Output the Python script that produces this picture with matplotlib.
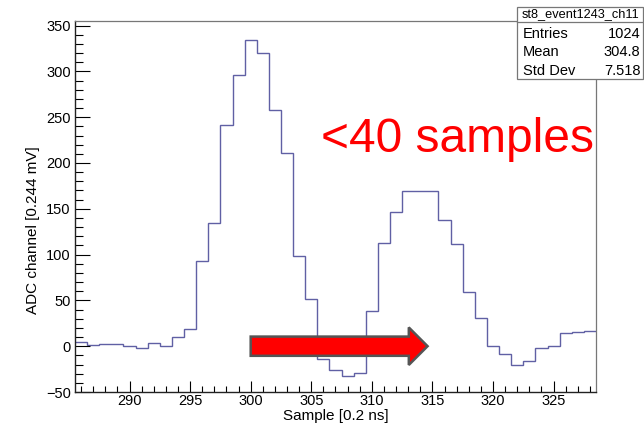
import numpy as np
import matplotlib
matplotlib.use("Agg")
import matplotlib.pyplot as plt
from matplotlib.patches import FancyArrow, Rectangle
from matplotlib.lines import Line2D
from matplotlib.ticker import MultipleLocator, FuncFormatter

plt.rcParams['font.family'] = ['Liberation Sans', 'DejaVu Sans']

# Waveform samples (bin centres) and ADC counts
samples = list(range(286, 329))
adc = [5, 1, 2.5, 2.5, 0.5, -1.5, 4, 0.5, 9.5, 18.5,
       93, 135, 242, 296, 334, 320, 258, 211, 98, 51,
       -13.5, -26, -32, -29.5, 38, 112.5, 146, 169.5, 169.5, 169.5,
       137.5, 112, 59.5, 31, 0.5, -8.5, -20, -16, -2, 0.5,
       14, 15, 17]

hist_name = "st8_event1243_ch11"
stat_labels = ["Entries", "Mean", "Std Dev"]
stat_values = ["1024", "304.8", "7.518"]

annotation = "<40 samples"
arrow_start, arrow_end = 300.0, 314.6

W, H = 644, 425
fig = plt.figure(figsize=(W / 100, H / 100), dpi=100)

def fx(px):
    return px / W

def fy(py):
    return 1 - py / H

left, right, top, bottom = 75, 596, 21, 392
ax = fig.add_axes([fx(left), fy(bottom), fx(right) - fx(left), fy(top) - fy(bottom)])

edges = np.arange(samples[0] - 0.5, samples[-1] + 1.0, 1.0)
ax.stairs(adc, edges, baseline=None, color='#6060a4', linewidth=1.0)

ax.set_xlim(285.5, 328.5)
ax.set_ylim(-50, 355)

ax.xaxis.set_major_locator(MultipleLocator(5))
ax.xaxis.set_minor_locator(MultipleLocator(1))
ax.yaxis.set_major_locator(MultipleLocator(50))
ax.yaxis.set_minor_locator(MultipleLocator(10))
ax.xaxis.set_major_formatter(FuncFormatter(lambda v, p: f"{v:.0f}"))
ax.yaxis.set_major_formatter(FuncFormatter(
    lambda v, p: f"{v:.0f}".replace("-", "\u2212")))

ax.tick_params(axis='x', which='major', direction='in', length=8, width=0.8,
               labelsize=10.5, pad=1.5)
ax.tick_params(axis='x', which='minor', direction='in', length=4, width=0.8)
ax.tick_params(axis='y', which='major', direction='in', length=11, width=0.8,
               labelsize=10.5, pad=3)
ax.tick_params(axis='y', which='minor', direction='in', length=5.5, width=0.8)

for side in ('left', 'bottom'):
    ax.spines[side].set_color('#222222')
    ax.spines[side].set_linewidth(1.0)
for side in ('top', 'right'):
    ax.spines[side].set_color('#777777')
    ax.spines[side].set_linewidth(0.9)

# Arrow spanning the sampling window
arrow = FancyArrow(arrow_start, 0, arrow_end - arrow_start, 0,
                   width=21, head_width=41, head_length=1.55,
                   length_includes_head=True, facecolor='#ff0000',
                   edgecolor='#555555', linewidth=1.8, zorder=5)
ax.add_patch(arrow)

# Axis titles
fig.text(fx(335.5), fy(420), "Sample [0.2 ns]", ha='center', va='baseline', fontsize=11)
fig.text(fx(33), fy(230), "ADC channel [0.244 mV]", ha='center', va='center',
         rotation=90, fontsize=11)

# Annotation
fig.text(fx(321), fy(151.5), annotation, ha='left', va='baseline',
         fontsize=34.5, color='#ff0000')

# Statistics box
bx0, bx1, by0, by1, bdiv = 516.7, 643, 6.7, 79.3, 21.7
fig.patches.append(Rectangle((fx(bx0), fy(by1)), fx(bx1) - fx(bx0), fy(by0) - fy(by1),
                             transform=fig.transFigure, facecolor='white',
                             edgecolor='#777777', linewidth=0.9, zorder=10))
fig.lines.append(Line2D([fx(bx0), fx(bx1)], [fy(bdiv), fy(bdiv)],
                        transform=fig.transFigure, color='#777777', linewidth=0.9, zorder=11))
fig.text(fx((bx0 + bx1) / 2 + 1), fy(14.5), hist_name, ha='center', va='center',
         fontsize=9.2, zorder=12)
rows_y = [34, 52.5, 71]
for lab, val, ry in zip(stat_labels, stat_values, rows_y):
    fig.text(fx(523), fy(ry), lab, ha='left', va='center', fontsize=10.5, zorder=12)
    fig.text(fx(640.5), fy(ry), val, ha='right', va='center', fontsize=10.5, zorder=12)

fig.savefig("out.png", dpi=100)
